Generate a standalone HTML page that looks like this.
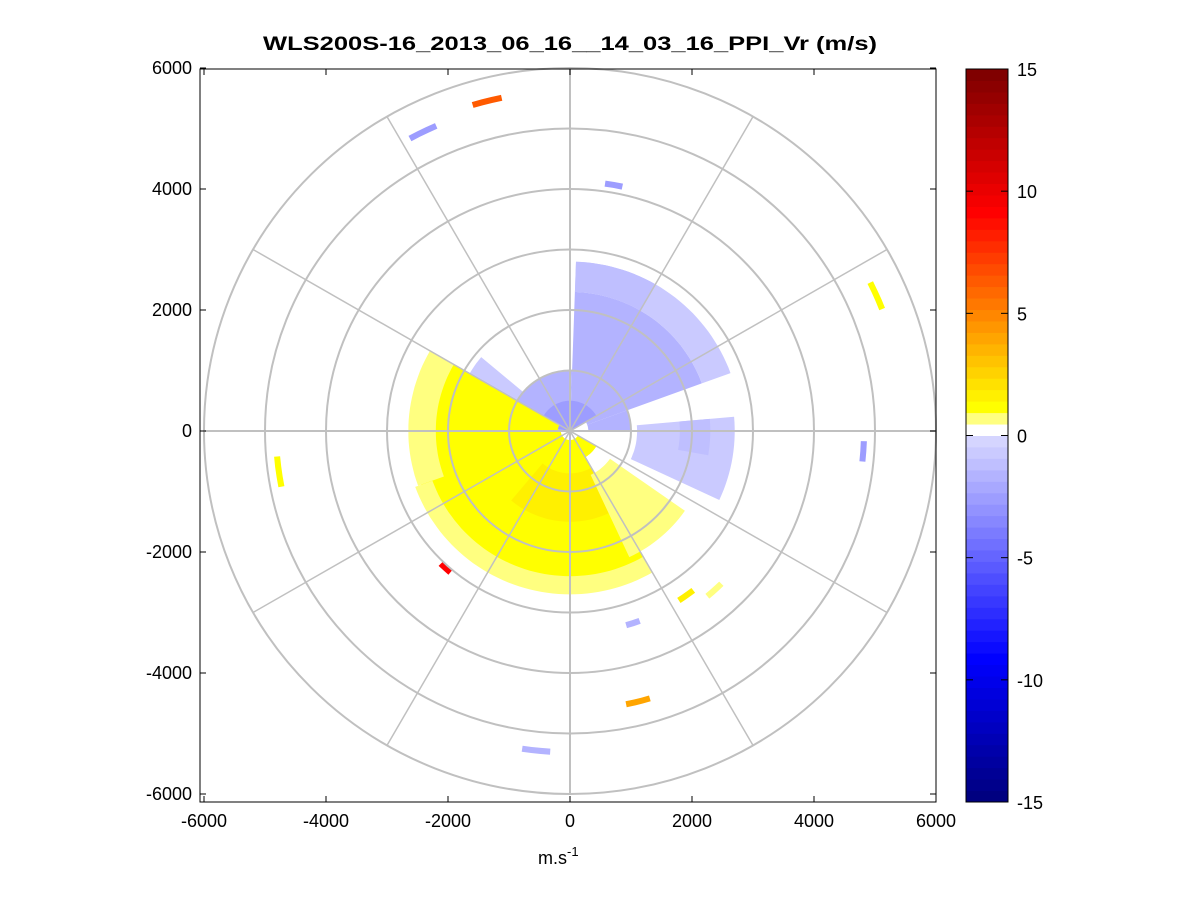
<!DOCTYPE html>
<html><head><meta charset="utf-8"><style>
html,body{margin:0;padding:0;background:#fff;}
svg text{font-family:"Liberation Sans",Arial,sans-serif;}
</style></head><body>
<svg id="chart" width="1201" height="901" xmlns="http://www.w3.org/2000/svg">
<rect width="1201" height="901" fill="#fff"/>
<text x="570" y="50" text-anchor="middle" font-size="19" font-weight="bold" textLength="614" lengthAdjust="spacingAndGlyphs">WLS200S-16_2013_06_16__14_03_16_PPI_Vr (m/s)</text>
<g id="data"></g>
<g id="grid"></g>
<g id="axes"></g>
<g id="cbar"></g>
<text x="538" y="864" font-size="18">m.s<tspan dy="-8" font-size="13">-1</tspan></text>
</svg>
<script>
// Region data: math angle (deg, CCW from east), range (m), radial velocity (m/s)
const regionA0 = [20, 20, 60, 88, 0, 30, 140, -25, -10, 150, 150, 200, 230, 295, 180, 101.5, 113.5, 78, 21.5, -6, 185, 226, -57.5, -50.5, -74, -78.5, -98.5];
const regionA1 = [88, 88, 88, 180, 20, 170, 158, 5, 5, 300, 200, 300, 300, 325, 330, 106.5, 118.5, 82, 26.5, -2, 191, 230, -52.5, -45.5, -70, -73.5, -93.5];
const regionR0 = [300, 2300, 2300, 0, 300, 0, 1000, 1100, 1800, 200, 2200, 2400, 700, 800, 150, 5570, 5450, 4080, 5450, 4770, 4770, 3000, 3270, 3490, 3290, 4560, 5260];
const regionR1 = [2300, 2800, 2800, 1000, 1000, 500, 1900, 2700, 2300, 2600, 2650, 2700, 1500, 2300, 500, 5670, 5550, 4180, 5550, 4870, 4870, 3100, 3370, 3590, 3390, 4660, 5360];
const regionV  = [-1.6, -0.9, -1.3, -1.8, -1.6, -2.5, -0.6, -0.5, -1.0, 1.2, 0.7, 0.7, 1.7, 0.7, 1.2, 6.5, -2.5, -2.5, 1.2, -2.5, 1.2, 9, 1.6, 0.7, -1.5, 4, -1.5];
const xTicks = [-6000, -4000, -2000, 0, 2000, 4000, 6000];
const yTicks = [6000, 4000, 2000, 0, -2000, -4000, -6000];
const ringRadii = [1000, 2000, 3000, 4000, 5000, 6000];
const spokeAngles = [0, 30, 60, 90, 120, 150];
const cbarTicks = [15, 10, 5, 0, -5, -10, -15];

const NS = "http://www.w3.org/2000/svg";
const CX = 570, CY = 431, SX = 0.061, SY = 0.0605;
const xs = v => CX + v * SX;
const ys = v => CY - v * SY;
const box = {l: 200, r: 936, t: 69, b: 802};
const cb = {l: 966, r: 1008, t: 69, b: 802, min: -15, max: 15};

function cmap(i) {
  let r, g, b;
  if (i >= 32) {
    if (i === 32) return [255,255,255];
    if (i === 33) return [255,255,128];
    if (i <= 51) { r = 255; g = Math.round(255 * (51 - i) / 17); b = 0; }
    else { r = Math.round(255 - 127 * (i - 51) / 12); g = 0; b = 0; }
  } else {
    if (i >= 12) { const c = Math.round(213 * (i - 12) / 19); r = c; g = c; b = 255; }
    else { r = 0; g = 0; b = Math.round(128 + 127 * i / 12); }
  }
  return [r, g, b];
}
function colorOf(v) {
  let i = Math.floor((v - cb.min) / (cb.max - cb.min) * 64);
  i = Math.max(0, Math.min(63, i));
  const c = cmap(i);
  return `rgb(${c[0]},${c[1]},${c[2]})`;
}
function pt(a, r) {
  const t = a * Math.PI / 180;
  return [xs(r * Math.cos(t)), ys(r * Math.sin(t))];
}

const dataG = document.getElementById('data');
for (let k = 0; k < regionV.length; k++) {
  const a0 = regionA0[k], a1 = regionA1[k], r0 = regionR0[k], r1 = regionR1[k];
  const n = Math.max(2, Math.ceil((a1 - a0) / 2));
  let d = "";
  for (let j = 0; j <= n; j++) { const p = pt(a0 + (a1 - a0) * j / n, r1); d += (j ? "L" : "M") + p[0].toFixed(1) + "," + p[1].toFixed(1); }
  for (let j = n; j >= 0; j--) { const p = pt(a0 + (a1 - a0) * j / n, r0); d += "L" + p[0].toFixed(1) + "," + p[1].toFixed(1); }
  const path = document.createElementNS(NS, 'path');
  path.setAttribute('d', d + "Z");
  path.setAttribute('fill', colorOf(regionV[k]));
  
  
  dataG.appendChild(path);
}

const gridG = document.getElementById('grid');
ringRadii.forEach(r => {
  const e = document.createElementNS(NS, 'ellipse');
  e.setAttribute('cx', CX); e.setAttribute('cy', CY);
  e.setAttribute('rx', r * SX); e.setAttribute('ry', r * SY);
  e.setAttribute('fill', 'none'); e.setAttribute('stroke', '#c0c0c0'); e.setAttribute('stroke-width', '2');
  
  
  gridG.appendChild(e);
});
spokeAngles.forEach(a => {
  const p = pt(a, 6000), q = pt(a + 180, 6000);
  const l = document.createElementNS(NS, 'line');
  l.setAttribute('x1', p[0]); l.setAttribute('y1', p[1]); l.setAttribute('x2', q[0]); l.setAttribute('y2', q[1]);
  l.setAttribute('stroke', '#c0c0c0'); l.setAttribute('stroke-width', a % 90 === 0 ? '2' : '1.5');
  
  
  gridG.appendChild(l);
});

const axG = document.getElementById('axes');
function add(parent, tag, attrs, txt) {
  const e = document.createElementNS(NS, tag);
  for (const k in attrs) e.setAttribute(k, attrs[k]);
  if (txt !== undefined) e.textContent = txt;
  parent.appendChild(e); return e;
}
const frame = add(axG, 'rect', {x: box.l, y: box.t, width: box.r - box.l, height: box.b - box.t, fill: 'none', stroke: '#000', 'stroke-width': 1});


xTicks.forEach(v => {
  const x = xs(v);
  add(axG, 'line', {x1: x, y1: box.b, x2: x, y2: box.b - 6, stroke: '#000'});
  add(axG, 'line', {x1: x, y1: box.t, x2: x, y2: box.t + 6, stroke: '#000'});
  const t = add(axG, 'text', {x: x, y: box.b + 25, 'text-anchor': 'middle', 'font-size': 18}, String(v));
  
  
});
yTicks.forEach(v => {
  const y = ys(v);
  add(axG, 'line', {x1: box.l, y1: y, x2: box.l + 6, y2: y, stroke: '#000'});
  add(axG, 'line', {x1: box.r, y1: y, x2: box.r - 6, y2: y, stroke: '#000'});
  const t = add(axG, 'text', {x: box.l - 8, y: y + 6, 'text-anchor': 'end', 'font-size': 18}, String(v));
  
  
});

const cbG = document.getElementById('cbar');
const bandH = (cb.b - cb.t) / 64;
for (let i = 0; i < 64; i++) {
  const c = cmap(i);
  const r = add(cbG, 'rect', {x: cb.l, y: cb.b - (i + 1) * bandH, width: cb.r - cb.l, height: bandH + 0.5, fill: `rgb(${c[0]},${c[1]},${c[2]})`});
  
  
}
add(cbG, 'rect', {x: cb.l, y: cb.t, width: cb.r - cb.l, height: cb.b - cb.t, fill: 'none', stroke: '#000'});
const cys = v => cb.b - (v - cb.min) / (cb.max - cb.min) * (cb.b - cb.t);
cbarTicks.forEach(v => {
  const y = cys(v);
  add(cbG, 'line', {x1: cb.l, y1: y, x2: cb.l + 7, y2: y, stroke: '#000'});
  add(cbG, 'line', {x1: cb.r, y1: y, x2: cb.r - 7, y2: y, stroke: '#000'});
  const t = add(cbG, 'text', {x: cb.r + 9, y: y + 7, 'font-size': 18}, String(v));
  
  
});
</script>
</body></html>
